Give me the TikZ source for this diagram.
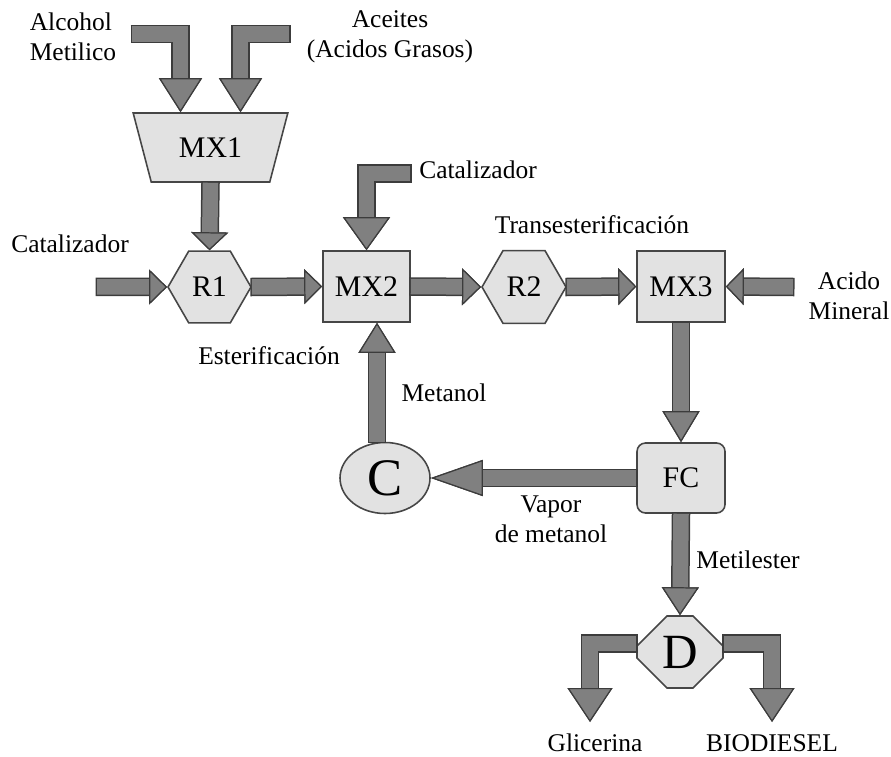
\documentclass[tikz,border=0pt]{standalone}
\usepackage{fontspec}
\setmainfont{Liberation Serif}
\usetikzlibrary{arrows.meta,shapes.geometric,shapes.misc}

\definecolor{pipefill}{RGB}{128,128,128}
\definecolor{pipeline}{RGB}{60,60,60}
\definecolor{unitfill}{RGB}{226,226,226}
\definecolor{unitline}{RGB}{70,70,70}

\tikzset{
  unit/.style={draw=unitline, fill=unitfill, line width=0.9pt, inner sep=0pt, font=\fontsize{17}{20}\selectfont},
  pipe/.style={draw=pipefill, line width=0.31cm, line join=miter, preaction={draw=pipeline, line width=0.37cm, shorten <=-0.03cm}},
  head/.style 2 args={-{Triangle[length=#1, width=#2, line width=0.7pt, fill=pipefill, color=pipeline]}},
  lbl/.style={align=center, font=\fontsize{14.5}{17}\selectfont},
}

\begin{document}
\begin{tikzpicture}
\useasboundingbox (0,0) rectangle (17.82,15.12);

% equipos
\node[unit, trapezium, trapezium stretches=true, shape border rotate=180, trapezium angle=64, minimum width=3.1cm, minimum height=1.38cm] (mx1) at (4.21,12.17) {MX1};
\node[unit, regular polygon, regular polygon sides=6, minimum size=1.66cm] (r1) at (4.19,9.38) {R1};
\node[unit, rectangle, minimum width=1.74cm, minimum height=1.42cm] (mx2) at (7.33,9.39) {MX2};
\node[unit, regular polygon, regular polygon sides=6, minimum size=1.68cm] (r2) at (10.48,9.38) {R2};
\node[unit, rectangle, minimum width=1.76cm, minimum height=1.42cm] (mx3) at (13.62,9.39) {MX3};
\node[unit, rectangle, rounded corners=0.17cm, minimum width=1.76cm, minimum height=1.4cm] (fc) at (13.62,5.56) {FC};
\node[unit, ellipse, minimum width=1.8cm, minimum height=1.42cm, font=\fontsize{30}{34}\selectfont] (c) at (7.7,5.56) {C};
\node[unit, chamfered rectangle, chamfered rectangle xsep=0.26cm, chamfered rectangle ysep=0.34cm, minimum width=1.72cm, minimum height=1.44cm, font=\fontsize{28}{32}\selectfont] (d) at (13.6,2.08) {D};

% extremos libres
\coordinate (alc) at (2.64,14.44);
\coordinate (acei) at (5.78,14.44);
\coordinate (cat1) at (1.94,9.38);
\coordinate (cat2) at (8.2,11.65);
\coordinate (acid) at (15.86,9.38);
\coordinate (gli) at (11.8,0.68);
\coordinate (bio) at (15.44,0.68);
\coordinate (ctop) at ([xshift=-0.16cm]c.north);

% corrientes
\draw[pipe, head={0.68cm}{0.86cm}] (alc) -| ([xshift=-0.6cm]mx1.north);
\draw[pipe, head={0.68cm}{0.86cm}] (acei) -| ([xshift=0.6cm]mx1.north);
\draw[pipe, head={0.36cm}{0.74cm}] (mx1.south) -- (r1.north);
\draw[pipe, head={0.36cm}{0.7cm}] (cat1) -- (r1.west);
\draw[pipe, head={0.36cm}{0.7cm}] (r1.east) -- (mx2.west);
\draw[pipe, head={0.66cm}{0.94cm}] (cat2) -| (mx2.north);
\draw[pipe, head={0.38cm}{0.74cm}] (mx2.east) -- (r2.west);
\draw[pipe, head={0.36cm}{0.74cm}] (r2.east) -- (mx3.west);
\draw[pipe, head={0.36cm}{0.74cm}] (acid) -- (mx3.east);
\draw[pipe, head={0.62cm}{0.74cm}] (mx3.south) -- (fc.north);
\draw[pipe, head={1.04cm}{0.72cm}] (fc.west) -- (c.east);
\draw[pipe, head={0.6cm}{0.74cm}] (ctop) -- (ctop |- mx2.south);
\draw[pipe, head={0.56cm}{0.74cm}] (fc.south) -- (d.north);
\draw[pipe, head={0.68cm}{0.9cm}] ([yshift=0.17cm]d.west) -| (gli);
\draw[pipe, head={0.68cm}{0.9cm}] ([yshift=0.17cm]d.east) -| (bio);

% textos
\node[lbl, align=left] (alclbl) at (1.46,14.39) {Alcohol\\Metilico};
\node[lbl] (aceilbl) at (7.8,14.38) {Aceites\\(Acidos Grasos)};
\node[lbl] (cat1lbl) at (1.4,10.24) {Catalizador};
\node[lbl] (cat2lbl) at (9.56,11.72) {Catalizador};
\node[lbl] (trlbl) at (11.84,10.62) {Transesterificación};
\node[lbl] (eslbl) at (5.38,8.0) {Esterificación};
\node[lbl] (acidlbl) at (16.98,9.2) {Acido\\Mineral};
\node[lbl] (metlbl) at (8.88,7.26) {Metanol};
\node[lbl] (vaplbl) at (11.02,4.74) {Vapor\\de metanol};
\node[lbl] (mestlbl) at (14.96,3.92) {Metilester};
\node[lbl] (glilbl) at (11.9,0.26) {Glicerina};
\node[lbl] (biolbl) at (15.44,0.26) {BIODIESEL};
\end{tikzpicture}
\end{document}
